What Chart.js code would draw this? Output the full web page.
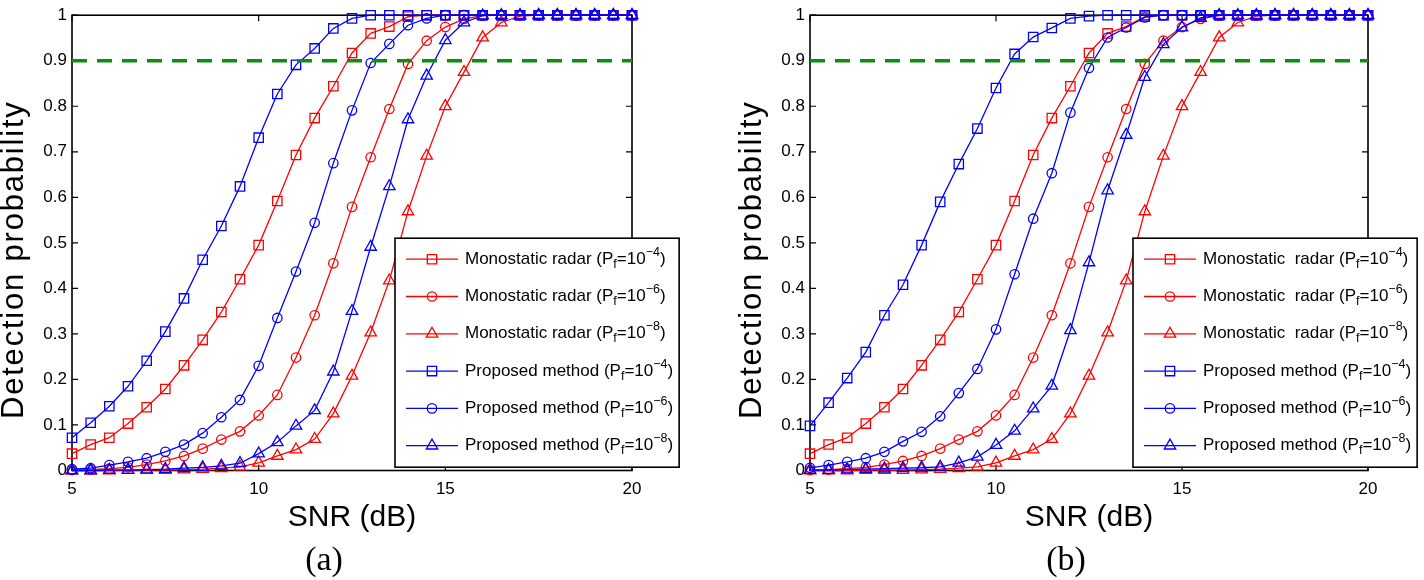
<!DOCTYPE html>
<html>
<head>
<meta charset="utf-8">
<script src="https://cdn.jsdelivr.net/npm/chart.js@4.4.0/dist/chart.umd.min.js"></script>
<style>
  body { margin: 0; background: #fff; }
  .panel { position: absolute; top: 0; width: 712px; height: 580px; }
  .caption { position: absolute; top: 542px; width: 100px; text-align: center; line-height: 1;
             font-size: 34px; font-family: 'Liberation Serif', 'DejaVu Serif', serif; }
</style>
</head>
<body>
<div class="panel" style="left:0"><canvas id="plot-a" width="712" height="580"></canvas></div>
<div class="panel" style="left:712px"><canvas id="plot-b" width="712" height="580"></canvas></div>
<div class="caption" style="left:274px">(a)</div>
<div class="caption" style="left:1016px">(b)</div>
<script>
const snr = [5, 5.5, 6, 6.5, 7, 7.5, 8, 8.5, 9, 9.5, 10, 10.5, 11, 11.5, 12, 12.5, 13, 13.5, 14, 14.5, 15, 15.5, 16, 16.5, 17, 17.5, 18, 18.5, 19, 19.5, 20];

// monostatic radar curves are the same in both panels
const mono4 = [0.037, 0.057, 0.072, 0.103, 0.139, 0.179, 0.231, 0.287, 0.348, 0.420, 0.495, 0.592, 0.693, 0.774, 0.844, 0.917, 0.960, 0.975, 0.997, 1, 1, 1, 1, 1, 1, 1, 1, 1, 1, 1, 1];
const mono6 = [0.001, 0.002, 0.004, 0.007, 0.013, 0.021, 0.032, 0.048, 0.068, 0.086, 0.121, 0.166, 0.248, 0.341, 0.455, 0.579, 0.688, 0.794, 0.893, 0.944, 0.974, 0.992, 0.999, 1, 1, 1, 1, 1, 1, 1, 1];
const mono8 = [0, 0, 0, 0.001, 0.001, 0.001, 0.002, 0.003, 0.005, 0.008, 0.017, 0.032, 0.046, 0.069, 0.125, 0.208, 0.303, 0.417, 0.569, 0.691, 0.800, 0.875, 0.951, 0.984, 0.998, 1, 1, 1, 1, 1, 1];

// proposed method, panel (a)
const propA4 = [0.072, 0.105, 0.141, 0.185, 0.241, 0.305, 0.378, 0.463, 0.537, 0.624, 0.731, 0.827, 0.891, 0.927, 0.971, 0.993, 1, 1, 1, 1, 1, 1, 1, 1, 1, 1, 1, 1, 1, 1, 1];
const propA6 = [0.003, 0.005, 0.012, 0.019, 0.027, 0.041, 0.057, 0.082, 0.117, 0.155, 0.230, 0.335, 0.437, 0.544, 0.675, 0.791, 0.895, 0.937, 0.978, 0.993, 1, 1, 1, 1, 1, 1, 1, 1, 1, 1, 1];
const propA8 = [0, 0, 0.001, 0.001, 0.002, 0.003, 0.005, 0.007, 0.010, 0.016, 0.037, 0.062, 0.098, 0.132, 0.217, 0.350, 0.491, 0.624, 0.771, 0.867, 0.945, 0.984, 0.999, 1, 1, 1, 1, 1, 1, 1, 1];

// proposed method, panel (b)
const propB4 = [0.098, 0.149, 0.203, 0.260, 0.341, 0.408, 0.495, 0.590, 0.673, 0.751, 0.840, 0.915, 0.952, 0.972, 0.993, 0.998, 1, 1, 1, 1, 1, 1, 1, 1, 1, 1, 1, 1, 1, 1, 1];
const propB6 = [0.006, 0.012, 0.019, 0.027, 0.041, 0.064, 0.085, 0.119, 0.170, 0.223, 0.310, 0.431, 0.553, 0.653, 0.786, 0.884, 0.951, 0.973, 0.995, 1, 1, 1, 1, 1, 1, 1, 1, 1, 1, 1, 1];
const propB8 = [0.001, 0.001, 0.002, 0.003, 0.004, 0.005, 0.006, 0.008, 0.017, 0.030, 0.056, 0.087, 0.136, 0.186, 0.308, 0.457, 0.615, 0.737, 0.864, 0.936, 0.973, 0.994, 1, 1, 1, 1, 1, 1, 1, 1, 1];

const thresholdX = [5, 20];
const thresholdY = [0.9, 0.9];

const xTicks = [5, 10, 15, 20];
const yTicks = [0, 0.1, 0.2, 0.3, 0.4, 0.5, 0.6, 0.7, 0.8, 0.9, 1];
const exponents = ['\u22124', '\u22126', '\u22128'];
const yTitle = 'Detection probability';

const sans = "'Liberation Sans', Arial, Helvetica, sans-serif";
const RED = '#ff0000';
const BLUE = '#0000ff';

const pts = (xs, ys) => xs.map((v, i) => ({x: v, y: ys[i]}));

function curve(name, exp, values, color, style, order) {
  const radius = style === 'circle' ? 4.7 : 6.6;
  return {
    label: name + ' (Pf=10' + exp + ')',
    legendName: name,
    legendExp: exp,
    data: pts(snr, values),
    borderColor: color,
    borderWidth: 1.3,
    pointStyle: style,
    pointRadius: radius,
    pointBorderColor: color,
    pointBorderWidth: 1.3,
    pointBackgroundColor: 'rgba(0,0,0,0)',
    tension: 0,
    clip: false,
    order: order
  };
}

// box + inward ticks like a matlab axes
const boxFrame = {
  id: 'boxFrame',
  beforeDatasetsDraw(chart) {
    const {ctx, chartArea: a, scales: {x, y}} = chart;
    ctx.save();
    ctx.strokeStyle = '#000';
    ctx.lineWidth = 1.6;
    ctx.strokeRect(a.left, a.top, a.width, a.height);
    ctx.lineWidth = 1.2;
    ctx.beginPath();
    x.ticks.forEach(t => {
      const px = x.getPixelForValue(t.value);
      ctx.moveTo(px, a.bottom); ctx.lineTo(px, a.bottom - 6);
      ctx.moveTo(px, a.top); ctx.lineTo(px, a.top + 6);
    });
    y.ticks.forEach(t => {
      const py = y.getPixelForValue(t.value);
      ctx.moveTo(a.left, py); ctx.lineTo(a.left + 6, py);
      ctx.moveTo(a.right, py); ctx.lineTo(a.right - 6, py);
    });
    ctx.stroke();

    // y label, a bit wider spaced than the plain font
    ctx.fillStyle = '#000';
    ctx.font = '31px ' + sans;
    ctx.letterSpacing = '1.8px';
    ctx.textAlign = 'center';
    ctx.textBaseline = 'middle';
    ctx.translate(a.left - 58, a.top + a.height * 0.537);
    ctx.rotate(-Math.PI / 2);
    ctx.fillText(yTitle, 0, 0);
    ctx.restore();
  }
};

function drawLabel(ctx, x, y, name, exp, measureOnly) {
  const parts = [[name + ' (P', 0, 17], ['f', 5, 12.5], ['=10', 0, 17], [exp, -7, 12.5], [')', 0, 17]];
  let cx = x;
  parts.forEach(([t, dy, size]) => {
    ctx.font = size + 'px ' + sans;
    if (!measureOnly) ctx.fillText(t, cx, y + dy);
    cx += ctx.measureText(t).width;
  });
  return cx - x;
}

const boxLegend = {
  id: 'boxLegend',
  afterDraw(chart) {
    const {ctx, chartArea: a} = chart;
    const items = chart.data.datasets.filter(d => d.legendName);
    ctx.save();
    let textW = 0;
    items.forEach(d => { textW = Math.max(textW, drawLabel(ctx, 0, 0, d.legendName, d.legendExp, true)); });
    const left = a.left + 323;
    const top = a.top + 223;
    const w = 70 + textW + 6;
    const h = 229;
    ctx.fillStyle = '#fff';
    ctx.fillRect(left, top, w, h);
    ctx.strokeStyle = '#000';
    ctx.lineWidth = 1.6;
    ctx.strokeRect(left, top, w, h);
    items.forEach((d, i) => {
      const ry = top + 21 + i * 37.3;
      ctx.strokeStyle = d.borderColor;
      ctx.lineWidth = 1.3;
      ctx.beginPath();
      ctx.moveTo(left + 11, ry); ctx.lineTo(left + 63, ry);
      ctx.stroke();
      ctx.fillStyle = 'rgba(0,0,0,0)';
      Chart.helpers.drawPoint(ctx, {pointStyle: d.pointStyle, radius: d.pointRadius, rotation: 0, borderWidth: 1.3}, left + 37, ry);
      ctx.fillStyle = '#000';
      ctx.textBaseline = 'middle';
      ctx.textAlign = 'left';
      drawLabel(ctx, left + 70, ry, d.legendName, d.legendExp, false);
    });
    ctx.restore();
  }
};

function makeChart(id, monoName, p4, p6, p8, yWidth, padRight) {
  return new Chart(document.getElementById(id), {
    type: 'line',
    data: {
      datasets: [
        curve(monoName, exponents[0], mono4, RED, 'rect', 6),
        curve(monoName, exponents[1], mono6, RED, 'circle', 5),
        curve(monoName, exponents[2], mono8, RED, 'triangle', 4),
        curve('Proposed method', exponents[0], p4, BLUE, 'rect', 3),
        curve('Proposed method', exponents[1], p6, BLUE, 'circle', 2),
        curve('Proposed method', exponents[2], p8, BLUE, 'triangle', 1),
        {
          label: 'threshold',
          data: pts(thresholdX, thresholdY),
          borderColor: '#138a13',
          borderWidth: 3.5,
          borderDash: [15, 10],
          pointRadius: 0,
          order: 0
        }
      ]
    },
    options: {
      responsive: false,
      animation: false,
      layout: {padding: {top: 12, right: padRight, left: 0, bottom: 0}},
      plugins: {legend: {display: false}, tooltip: {enabled: false}},
      scales: {
        x: {
          type: 'linear',
          min: 5,
          max: 20,
          afterBuildTicks: s => { s.ticks = xTicks.map(v => ({value: v})); },
          afterFit: s => { s.height = 109.5; },
          grid: {display: false, drawTicks: false},
          border: {display: false},
          ticks: {color: '#000', padding: 9, autoSkip: false, maxRotation: 0, font: {family: sans, size: 17}},
          title: {display: true, text: 'SNR (dB)', color: '#000', font: {family: sans, size: 30}, padding: {top: 0, bottom: 44}}
        },
        y: {
          min: 0,
          max: 1,
          afterBuildTicks: s => { s.ticks = yTicks.map(v => ({value: v})); },
          afterFit: s => { s.width = yWidth; },
          grid: {display: false, drawTicks: false},
          border: {display: false},
          ticks: {color: '#000', padding: 5, callback: v => String(v), font: {family: sans, size: 17}},
          title: {display: false}
        }
      }
    },
    plugins: [boxFrame, boxLegend]
  });
}

makeChart('plot-a', 'Monostatic radar', propA4, propA6, propA8, 72, 80);
makeChart('plot-b', 'Monostatic  radar', propB4, propB6, propB8, 98, 56);
</script>
</body>
</html>
